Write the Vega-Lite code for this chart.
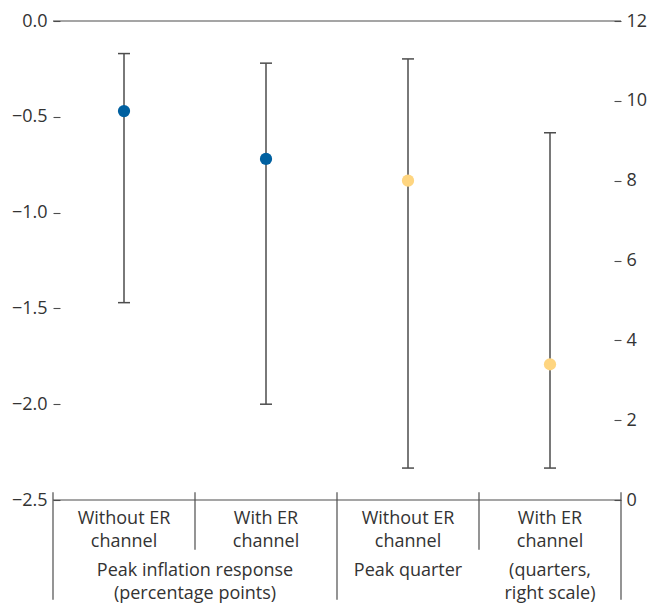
{
  "$schema": "https://vega.github.io/schema/vega-lite/v6.json",
  "width": 568,
  "height": 479,
  "autosize": {"type": "none"},
  "padding": {"left": 53, "top": 21, "right": 37, "bottom": 108},
  "background": "white",
  "config": {
    "view": {"stroke": null},
    "font": "Open Sans",
    "text": {"font": "Open Sans", "fontSize": 18, "color": "#333333", "lineBreak": "\n", "lineHeight": 23, "baseline": "top", "align": "center"}
  },
  "datasets": {
    "left": [
      {"cat": "c1", "series": "Without ER channel", "est": -0.47, "lo": -1.47, "hi": -0.17},
      {"cat": "c2", "series": "With ER channel", "est": -0.72, "lo": -2.0, "hi": -0.22}
    ],
    "right": [
      {"cat": "c3", "series": "Without ER channel", "est": 8.0, "lo": 0.8, "hi": 11.05},
      {"cat": "c4", "series": "With ER channel", "est": 3.4, "lo": 0.8, "hi": 9.2}
    ],
    "row1": [
      {"cat": "c1", "label": "Without ER\nchannel"},
      {"cat": "c2", "label": "With ER\nchannel"},
      {"cat": "c3", "label": "Without ER\nchannel"},
      {"cat": "c4", "label": "With ER\nchannel"}
    ]
  },
  "encoding": {
    "x": {"field": "cat", "type": "nominal", "scale": {"domain": ["c1", "c2", "c3", "c4"], "paddingInner": 0, "paddingOuter": 0}, "axis": null}
  },
  "layer": [
    {
      "encoding": {
        "y": {"type": "quantitative", "scale": {"domain": [-2.5, 0], "nice": false, "zero": false},
          "axis": {"orient": "left", "values": [0, -0.5, -1, -1.5, -2, -2.5], "format": ".1f", "domain": false, "grid": false, "tickSize": -7, "tickColor": "#4d4d4d", "tickWidth": 1.1, "labelPadding": 13, "labelFontSize": 18, "labelFont": "Open Sans", "labelColor": "#333333", "title": null}}
      },
      "layer": [
        {"data": {"values": [{}]}, "mark": {"type": "rule", "color": "#4d4d4d", "strokeWidth": 1.2}, "encoding": {"x": null, "y": {"datum": 0, "type": "quantitative"}}},
        {"data": {"values": [{}]}, "mark": {"type": "rule", "color": "#4d4d4d", "strokeWidth": 1.2}, "encoding": {"x": null, "y": {"datum": -2.5, "type": "quantitative"}}},
        {"data": {"values": [{"cat": "c1"}, {"cat": "c3"}]}, "mark": {"type": "rule", "color": "#4d4d4d", "strokeWidth": 1.2},
          "encoding": {"x": {"field": "cat", "type": "nominal", "bandPosition": 0}, "y": {"datum": -2.46, "type": "quantitative"}, "y2": {"datum": -3.02}}},
        {"data": {"values": [{"cat": "c4"}]}, "mark": {"type": "rule", "color": "#4d4d4d", "strokeWidth": 1.2},
          "encoding": {"x": {"field": "cat", "type": "nominal", "bandPosition": 1}, "y": {"datum": -2.46, "type": "quantitative"}, "y2": {"datum": -3.02}}},
        {"data": {"values": [{"cat": "c2"}, {"cat": "c4"}]}, "mark": {"type": "rule", "color": "#4d4d4d", "strokeWidth": 1.2},
          "encoding": {"x": {"field": "cat", "type": "nominal", "bandPosition": 0}, "y": {"datum": -2.46, "type": "quantitative"}, "y2": {"datum": -2.76}}},
        {"data": {"name": "row1"}, "mark": {"type": "text", "dy": 10},
          "encoding": {"y": {"datum": -2.5, "type": "quantitative"}, "text": {"field": "label"}}},
        {"data": {"values": [{"cat": "c2", "label": "Peak inflation response\n(percentage points)"}]}, "mark": {"type": "text", "dy": 62},
          "encoding": {"x": {"field": "cat", "type": "nominal", "bandPosition": 0}, "y": {"datum": -2.5, "type": "quantitative"}, "text": {"field": "label"}}},
        {"data": {"values": [{"cat": "c3", "label": "Peak quarter"}, {"cat": "c4", "label": "(quarters,\nright scale)"}]}, "mark": {"type": "text", "dy": 62},
          "encoding": {"y": {"datum": -2.5, "type": "quantitative"}, "text": {"field": "label"}}},
        {"data": {"name": "left"}, "mark": {"type": "rule", "color": "#4d4d4d", "strokeWidth": 1.5},
          "encoding": {"y": {"field": "lo"}, "y2": {"field": "hi"}}},
        {"data": {"name": "left"}, "mark": {"type": "tick", "orient": "horizontal", "size": 12, "thickness": 1.5, "color": "#4d4d4d", "opacity": 1},
          "encoding": {"y": {"field": "lo"}}},
        {"data": {"name": "left"}, "mark": {"type": "tick", "orient": "horizontal", "size": 12, "thickness": 1.5, "color": "#4d4d4d", "opacity": 1},
          "encoding": {"y": {"field": "hi"}}},
        {"data": {"name": "left"}, "mark": {"type": "circle", "size": 150, "color": "#0060a0", "opacity": 1},
          "encoding": {"y": {"field": "est"}, "tooltip": [{"field": "series"}, {"field": "est"}]}}
      ]
    },
    {
      "data": {"name": "right"},
      "encoding": {
        "y": {"type": "quantitative", "scale": {"domain": [0, 12], "nice": false},
          "axis": {"orient": "right", "values": [0, 2, 4, 6, 8, 10, 12], "format": "d", "domain": false, "grid": false, "tickSize": -7, "tickColor": "#4d4d4d", "tickWidth": 1.1, "labelPadding": 12, "labelFontSize": 18, "labelFont": "Open Sans", "labelColor": "#333333", "title": null}}
      },
      "layer": [
        {"mark": {"type": "rule", "color": "#4d4d4d", "strokeWidth": 1.5},
          "encoding": {"y": {"field": "lo"}, "y2": {"field": "hi"}}},
        {"mark": {"type": "tick", "orient": "horizontal", "size": 12, "thickness": 1.5, "color": "#4d4d4d", "opacity": 1},
          "encoding": {"y": {"field": "lo"}}},
        {"mark": {"type": "tick", "orient": "horizontal", "size": 12, "thickness": 1.5, "color": "#4d4d4d", "opacity": 1},
          "encoding": {"y": {"field": "hi"}}},
        {"mark": {"type": "circle", "size": 150, "color": "#fed580", "opacity": 1},
          "encoding": {"y": {"field": "est"}, "tooltip": [{"field": "series"}, {"field": "est"}]}}
      ]
    }
  ],
  "resolve": {"scale": {"y": "independent"}, "axis": {"y": "independent"}}
}
